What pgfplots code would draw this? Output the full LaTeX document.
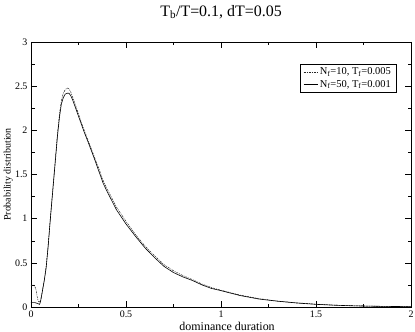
\documentclass[border=0pt]{standalone}
\usepackage{fontspec}
\setmainfont{Liberation Serif}
\usepackage{pgfplots}
\pgfplotsset{compat=1.18}

\begin{document}
\begin{tikzpicture}
\begin{axis}[
    scale only axis,
    width=380bp,
    height=265bp,
    xmin=0, xmax=2,
    ymin=0, ymax=3,
    xtick={0,0.5,1,1.5,2},
    ytick={0,0.5,1,1.5,2,2.5,3},
    minor x tick num=1,
    minor y tick num=1,
    tick align=inside,
    major tick length=6bp,
    minor tick length=3.5bp,
    axis line style={line width=0.9pt},
    every tick/.style={black, line width=0.5pt},
    /pgf/number format/assume math mode=true,
    ticklabel style={font=\fontsize{10}{11}\selectfont},
    xlabel={dominance duration},
    ylabel={Probability distribution},
    xlabel style={font=\fontsize{12}{13}\selectfont,
        at={(axis description cs:0.516,-0.072)}, anchor=center},
    ylabel style={font=\fontsize{10}{11}\selectfont,
        at={(axis description cs:-0.06,0.5)}, anchor=center},
    title={T\textsubscript{b}/T=0.1, dT=0.05},
    title style={font=\fontsize{16}{18}\selectfont,
        at={(axis description cs:0.5,1)}, anchor=base, yshift=20bp},
    legend image code/.code={\draw[#1] (0bp,0bp) -- (14bp,0bp);},
    legend style={
        at={(0.9605,0.917)},
        anchor=north east,
        draw=black,
        fill=white,
        font=\fontsize{10.5}{11.5}\selectfont,
        inner ysep=1.5bp,
        row sep=0bp
    },
    legend cell align=left
]
\coordinate (o) at (rel axis cs:0,0);

% N_f=10, T_f=0.005
\addplot[black!85, line width=0.5pt, dash pattern=on 2pt off 1pt on 1pt off 1pt] coordinates {
    (0,0.24) (0.015,0.25) (0.025,0.21) (0.03,0.15) (0.035,0.09) (0.04,0.06)
    (0.05,0.06) (0.06,0.18) (0.07,0.31) (0.08,0.46) (0.09,0.69) (0.1,0.96)
    (0.11,1.22) (0.12,1.47) (0.13,1.73) (0.14,1.98) (0.15,2.19) (0.16,2.34)
    (0.17,2.42) (0.18,2.46) (0.19,2.48) (0.2,2.47) (0.21,2.43) (0.22,2.37)
    (0.24,2.25) (0.26,2.12) (0.28,2.00) (0.3,1.89) (0.33,1.72) (0.36,1.55)
    (0.38,1.43) (0.4,1.34) (0.45,1.13) (0.5,0.97) (0.55,0.82) (0.6,0.69)
    (0.65,0.58) (0.7,0.48) (0.75,0.41) (0.8,0.355) (0.85,0.31) (0.9,0.26)
    (0.95,0.22) (1.0,0.19) (1.1,0.135) (1.2,0.095) (1.3,0.067) (1.4,0.047)
    (1.5,0.032) (1.6,0.021) (1.7,0.014) (1.8,0.009) (1.9,0.006) (2.0,0.004)
};

% N_f=50, T_f=0.001
\addplot[black, line width=0.6pt] coordinates {
    (0,0.05) (0.02,0.05) (0.035,0.04) (0.045,0.03) (0.05,0.06)
    (0.06,0.18) (0.07,0.3) (0.08,0.45) (0.09,0.68) (0.1,0.95)
    (0.11,1.2) (0.12,1.45) (0.13,1.7) (0.14,1.95) (0.15,2.15) (0.16,2.3)
    (0.17,2.37) (0.18,2.41) (0.19,2.42) (0.2,2.42) (0.21,2.39) (0.22,2.34)
    (0.24,2.22) (0.26,2.10) (0.28,1.98) (0.3,1.87) (0.33,1.70) (0.36,1.52)
    (0.38,1.40) (0.4,1.31) (0.45,1.10) (0.5,0.94) (0.55,0.80) (0.6,0.67)
    (0.65,0.56) (0.7,0.46) (0.75,0.39) (0.8,0.34) (0.85,0.30) (0.9,0.25)
    (0.95,0.21) (1.0,0.185) (1.1,0.13) (1.2,0.09) (1.3,0.065) (1.4,0.045)
    (1.5,0.03) (1.6,0.02) (1.7,0.013) (1.8,0.009) (1.9,0.006) (2.0,0.004)
};

\legend{N\textsubscript{f}=10{,} T\textsubscript{f}=0.005, N\textsubscript{f}=50{,} T\textsubscript{f}=0.001}

\end{axis}
\pgfresetboundingbox
\path[use as bounding box] ([shift={(-31bp,-25bp)}]o) rectangle ++(415bp,332bp);
\end{tikzpicture}
\end{document}
